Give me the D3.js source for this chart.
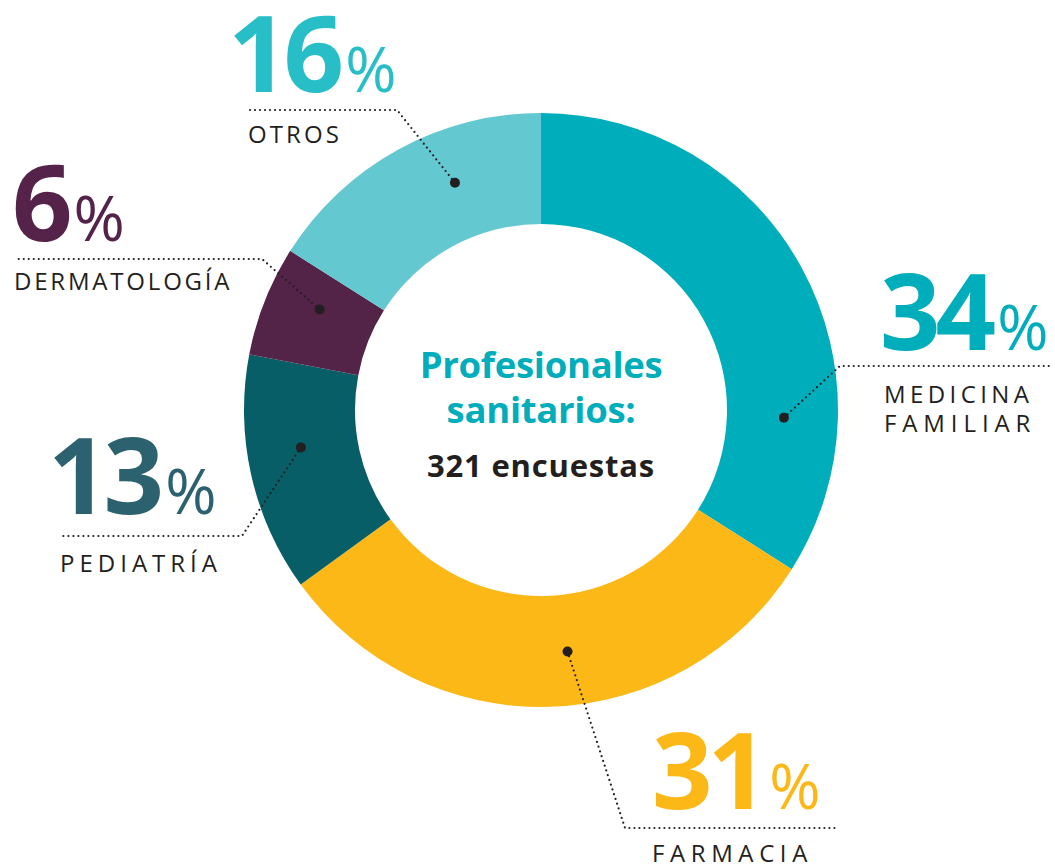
<!DOCTYPE html>
<html lang="es">
<head>
  <meta charset="UTF-8">
  <title>Profesionales sanitarios</title>
  <style>
    body { margin: 0; background: #fff; }
    svg { display: block; }
    .num { font-family: "Open Sans", sans-serif; font-weight: 700; }
    .pct { font-family: "Open Sans", sans-serif; font-weight: 400; }
    .lbl { font-family: "Open Sans", sans-serif; font-size: 24px; fill: #231f20; }
  </style>
</head>
<body>
  <svg id="chart" width="1055" height="865"></svg>
  <script src="https://d3js.org/d3.v7.min.js"></script>
  <script>
    // data
    const categories = ["MEDICINA FAMILIAR", "FARMACIA", "PEDIATRÍA", "DERMATOLOGÍA", "OTROS"];
    const values = [34, 31, 13, 6, 16];
    const sliceColors = ["#00adbb", "#fbb817", "#075e66", "#542348", "#64c8d0"];
    const numberColors = ["#00adbb", "#fbb817", "#2c6270", "#552249", "#27bec8"];

    // label layout: where the dot sits inside the slice, the elbow, and the text block
    const layout = [
      { frac: 0.75, elbow: [840, 366], end: 1052, numX: 880, numY: 350, lblX: 884, lblY: 403, spacing: [4.4, 5.9] },
      { frac: 0.46, elbow: [625, 828], end: 838, numX: 652, numY: 809, lblX: 652, lblY: 862, spacing: [5.6] },
      { frac: 0.58, elbow: [242, 536], end: 60, numX: 48, numY: 514, lblX: 60, lblY: 572, spacing: [5] },
      { frac: 0.63, elbow: [262, 259], end: 14, numX: 12, numY: 241, lblX: 14, lblY: 290, spacing: [2.8] },
      { frac: 0.64, elbow: [397, 110], end: 248, numX: 228, numY: 92, lblX: 248, lblY: 143, spacing: [3.1] }
    ];

    const data = categories.map((c, i) => ({ name: c, value: values[i], color: sliceColors[i], numColor: numberColors[i], lay: layout[i] }));

    const cx = 541, cy = 410;
    const outerR = 297, innerR = 186;

    const svg = d3.select("#chart");
    const g = svg.append("g").attr("transform", `translate(${cx},${cy})`);

    const pie = d3.pie().value(d => d.value).sort(null);
    const arc = d3.arc().innerRadius(innerR).outerRadius(outerR);
    const arcs = pie(data);

    g.selectAll("path.slice")
      .data(arcs)
      .enter().append("path")
      .attr("class", "slice")
      .attr("d", arc)
      .attr("fill", d => d.data.color);

    // anchor point inside each slice
    const anchorArc = d3.arc().innerRadius(243).outerRadius(243);
    function anchorPoint(d) {
      const a = d.startAngle + (d.endAngle - d.startAngle) * d.data.lay.frac;
      const p = anchorArc.centroid({ startAngle: a, endAngle: a });
      return [p[0] + cx, p[1] + cy];
    }

    // dotted leaders
    svg.selectAll("path.leader")
      .data(arcs)
      .enter().append("path")
      .attr("class", "leader")
      .attr("fill", "none")
      .attr("stroke", "#231f20")
      .attr("stroke-width", 2.2)
      .attr("stroke-linecap", "round")
      .attr("stroke-dasharray", "0 5")
      .attr("d", d => {
        const p = anchorPoint(d), l = d.data.lay;
        return d3.line()([p, l.elbow, [l.end, l.elbow[1]]]);
      });

    svg.selectAll("circle.dot")
      .data(arcs)
      .enter().append("circle")
      .attr("class", "dot")
      .attr("cx", d => anchorPoint(d)[0])
      .attr("cy", d => anchorPoint(d)[1])
      .attr("r", 5)
      .attr("fill", "#231f20");

    // big numbers
    const nums = svg.selectAll("text.num")
      .data(data)
      .enter().append("text")
      .attr("class", "num")
      .attr("x", d => d.lay.numX)
      .attr("y", d => d.lay.numY)
      .attr("fill", d => d.numColor);
    nums.append("tspan")
      .attr("font-size", 106)
      .attr("letter-spacing", -5)
      .text(d => d.value);
    nums.append("tspan")
      .attr("class", "pct")
      .attr("font-size", 62)
      .attr("dx", 6)
      .text("%");

    // category labels (two-word names go on two lines)
    svg.selectAll("text.lbl")
      .data(data)
      .enter().append("text")
      .attr("class", "lbl")
      .attr("x", d => d.lay.lblX)
      .attr("y", d => d.lay.lblY)
      .each(function (d) {
        const words = d.name.split(" ");
        d3.select(this).selectAll("tspan")
          .data(words)
          .enter().append("tspan")
          .attr("x", d.lay.lblX)
          .attr("dy", (w, i) => i === 0 ? 0 : 29)
          .attr("letter-spacing", (w, i) => d.lay.spacing[i])
          .text(w => w);
      });

    // centre text
    const center = svg.append("g").attr("transform", `translate(${cx},${cy})`);
    center.append("text")
      .attr("text-anchor", "middle")
      .attr("y", -32)
      .attr("font-family", "Open Sans, sans-serif")
      .attr("font-weight", 700)
      .attr("font-size", 36.5)
      .attr("letter-spacing", -0.3)
      .attr("fill", "#00adbb")
      .text("Profesionales");
    center.append("text")
      .attr("text-anchor", "middle")
      .attr("y", 13)
      .attr("font-family", "Open Sans, sans-serif")
      .attr("font-weight", 700)
      .attr("font-size", 36.5)
      .attr("letter-spacing", -0.3)
      .attr("fill", "#00adbb")
      .text("sanitarios:");
    center.append("text")
      .attr("text-anchor", "middle")
      .attr("y", 67)
      .attr("font-family", "Open Sans, sans-serif")
      .attr("font-weight", 700)
      .attr("font-size", 31)
      .attr("letter-spacing", 0.8)
      .attr("fill", "#231f20")
      .text("321 encuestas");
  </script>
</body>
</html>
